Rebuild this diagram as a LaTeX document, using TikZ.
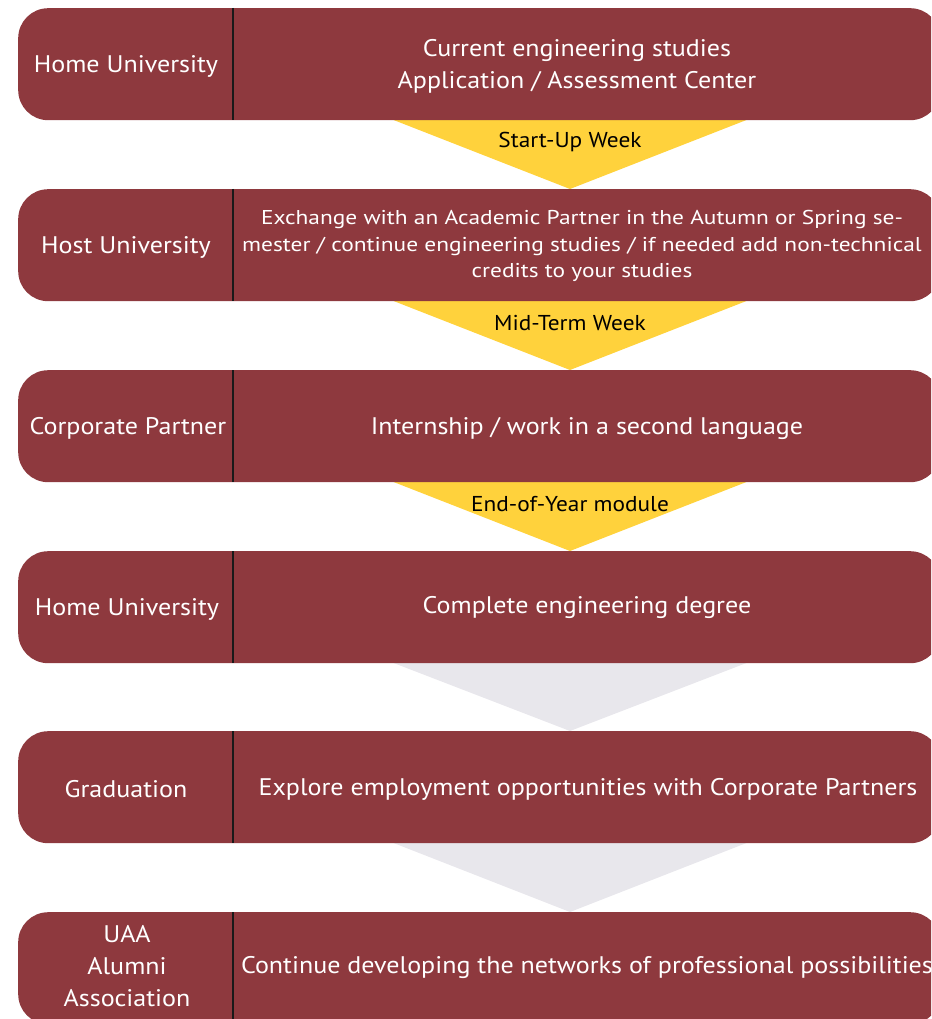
\documentclass[tikz,border=0pt]{standalone}
\usepackage{fontspec}
\setmainfont{PT Sans}
\newfontfamily\mainf[FakeStretch=1.085]{PT Sans}
\newfontfamily\widef[FakeStretch=1.17]{PT Sans}
\definecolor{boxred}{HTML}{8E393E}
\definecolor{arrowyellow}{HTML}{FFD23C}
\definecolor{arrowgrey}{HTML}{E8E7EC}
\begin{document}
\begin{tikzpicture}[x=1pt,y=-1pt,
  stage/.style={fill=boxred, rounded corners=30pt, minimum width=922pt, minimum height=112pt, anchor=north west, inner sep=0pt},
  divider/.style={draw=black!90, line width=2pt},
  leftlabel/.style={text=white, font=\mainf\fontsize{24}{32}\selectfont, align=center},
  rightlabel/.style={text=white, font=\mainf\fontsize{24}{32}\selectfont, align=center},
  smalltext/.style={text=white, font=\widef\fontsize{20}{26.5}\selectfont, align=center},
  steplabel/.style={text=black, font=\mainf\fontsize{21.5}{24}\selectfont},
  yellowarrow/.style={fill=arrowyellow},
  greyarrow/.style={fill=arrowgrey}]
\useasboundingbox (0,0) rectangle (931,1019);
\clip (0,0) rectangle (931,1019);
% arrows between stages
\fill[yellowarrow] (391,119) -- (749,119) -- (570,189) -- cycle;
\fill[yellowarrow] (391,300) -- (749,300) -- (570,370) -- cycle;
\fill[yellowarrow] (391,481) -- (749,481) -- (570,551) -- cycle;
\fill[greyarrow] (391,662) -- (749,662) -- (570,731) -- cycle;
\fill[greyarrow] (391,842) -- (749,842) -- (570,912) -- cycle;
% stages
\node[stage] (b1) at (18,8) {};
\node[stage] (b2) at (18,189) {};
\node[stage] (b3) at (18,370) {};
\node[stage] (b4) at (18,551) {};
\node[stage] (b5) at (18,731) {};
\node[stage] (b6) at (18,912) {};
\foreach \b in {b1,b2,b3,b4,b5,b6}
  \draw[divider] ([xshift=215pt]\b.north west) -- ([xshift=215pt]\b.south west);
% step labels
\node[steplabel] (s1) at (570,142) {Start-Up Week};
\node[steplabel] (s2) at (570,323) {Mid-Term Week};
\node[steplabel] (s3) at (570,504) {End-of-Year module};
% left labels
\node[leftlabel] (l1) at (126,66) {Home University};
\node[leftlabel] (l2) at (126,247) {Host University};
\node[leftlabel] (l3) at (128,428) {Corporate Partner};
\node[leftlabel] (l4) at (127,609) {Home University};
\node[leftlabel] (l5) at (126,789) {Graduation};
\node[leftlabel] (l6) at (127,966) {UAA\\Alumni\\Association};
% right texts
\node[rightlabel] (r1) at (577,66) {Current engineering studies\\Application / Assessment Center};
\node[smalltext] (r2) at (582,246) {Exchange with an Academic Partner in the Autumn or Spring se-\\mester / continue engineering studies / if needed add non-technical\\credits to your studies};
\node[rightlabel] (r3) at (587,428) {Internship / work in a second language};
\node[rightlabel] (r4) at (587,607) {Complete engineering degree};
\node[rightlabel] (r5) at (588,789) {Explore employment opportunities with Corporate Partners};
\node[rightlabel] (r6) at (587,967) {Continue developing the networks of professional possibilities};
\end{tikzpicture}
\end{document}
